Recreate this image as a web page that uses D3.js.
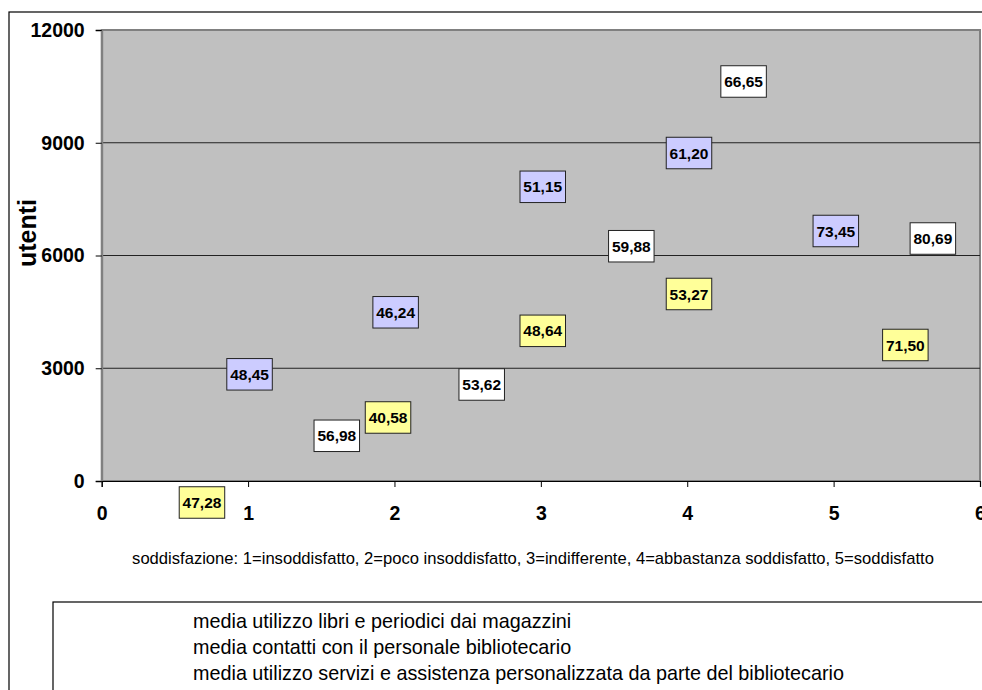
<!DOCTYPE html>
<html>
<head>
<meta charset="utf-8">
<script src="https://cdn.jsdelivr.net/npm/d3@7"></script>
<style>
  html, body { margin: 0; padding: 0; background: #fff; }
  svg { display: block; font-family: "Liberation Sans", Arial, sans-serif; }
</style>
</head>
<body>
<svg id="chart" width="982" height="690"></svg>
<script>
// ---- data ----
const seriesNames = [
  "media utilizzo libri e periodici dai magazzini",
  "media contatti con il personale bibliotecario",
  "media utilizzo servizi e assistenza personalizzata da parte del bibliotecario"
];
const seriesColors = ["#FFFFFF", "#CCCCFF", "#FFFF99"];
// x = satisfaction position, y = users, label = average value
const s1X = [1.606, 2.596, 3.618, 4.385, 5.678];
const s1Y = [1203, 2568, 6247, 10630, 6452];
const s1Labels = ["56,98", "53,62", "59,88", "66,65", "80,69"];
const s2X = [1.010, 2.008, 3.013, 4.012, 5.015];
const s2Y = [2839, 4489, 7828, 8727, 6652];
const s2Labels = ["48,45", "46,24", "51,15", "61,20", "73,45"];
const s3X = [0.685, 1.956, 3.013, 4.012, 5.490];
const s3Y = [-572, 1690, 3996, 4976, 3619];
const s3Labels = ["47,28", "40,58", "48,64", "53,27", "71,50"];
const xTicks = [0, 1, 2, 3, 4, 5, 6];
const yTicks = [0, 3000, 6000, 9000, 12000];
const yTitle = "utenti";
const xTitle = "soddisfazione: 1=insoddisfatto, 2=poco insoddisfatto, 3=indifferente, 4=abbastanza soddisfatto, 5=soddisfatto";

const series = [
  {name: seriesNames[0], color: seriesColors[0], x: s1X, y: s1Y, labels: s1Labels},
  {name: seriesNames[1], color: seriesColors[1], x: s2X, y: s2Y, labels: s2Labels},
  {name: seriesNames[2], color: seriesColors[2], x: s3X, y: s3Y, labels: s3Labels}
];

// ---- layout ----
const svg = d3.select("#chart");
const L = 101.7, R = 980, T = 30, B = 481;
const x = d3.scaleLinear().domain([0, 6]).range([L, R]);
const y = d3.scaleLinear().domain([0, 12000]).range([B, T]);

// outer chart frame
svg.append("rect").attr("x", 9).attr("y", 12).attr("width", 1000).attr("height", 700)
  .attr("fill", "#fff").attr("stroke", "#000").attr("stroke-width", 1.2);

// plot area
svg.append("rect").attr("x", L).attr("y", T).attr("width", R - L).attr("height", B - T)
  .attr("fill", "#C0C0C0").attr("stroke", "#808080").attr("stroke-width", 2);

// gridlines
svg.append("g").selectAll("line").data(yTicks.filter(d => d > 0 && d < 12000)).join("line")
  .attr("x1", L).attr("x2", R).attr("y1", d => y(d)).attr("y2", d => y(d))
  .attr("stroke", "#222").attr("stroke-width", 1);

// axes
const yAxis = svg.append("g").attr("transform", `translate(${L},0)`)
  .call(d3.axisLeft(y).tickValues(yTicks).tickSize(6).tickPadding(11).tickFormat(d3.format("d")));
yAxis.select(".domain").attr("stroke", "#808080").attr("stroke-width", 2);
yAxis.selectAll("text").attr("font-size", 19.5).attr("font-weight", "bold").attr("fill", "#000")
  .attr("font-family", "Liberation Sans, Arial, sans-serif");

const xAxis = svg.append("g").attr("transform", `translate(0,${B})`)
  .call(d3.axisBottom(x).tickValues(xTicks).tickSize(6).tickPadding(19).tickFormat(d3.format("d")));
xAxis.select(".domain").attr("stroke", "#000").attr("stroke-width", 1.2);
xAxis.selectAll("text").attr("font-size", 19.5).attr("font-weight", "bold").attr("fill", "#000")
  .attr("font-family", "Liberation Sans, Arial, sans-serif");

// axis titles
svg.append("text").attr("transform", `translate(36,233) rotate(-90)`)
  .attr("text-anchor", "middle").attr("font-size", 25).attr("font-weight", "bold").text(yTitle);
svg.append("text").attr("x", 533).attr("y", 564).attr("text-anchor", "middle")
  .attr("font-size", 16.6).text(xTitle);

// data labels
const boxW = 45.5, boxH = 31.5;
series.forEach(s => {
  const g = svg.append("g");
  const pts = s.x.map((v, i) => ({x: v, y: s.y[i], label: s.labels[i]}));
  const lg = g.selectAll("g").data(pts).join("g")
    .attr("transform", d => `translate(${x(d.x)},${y(d.y)})`);
  lg.append("rect").attr("x", -boxW / 2).attr("y", -boxH / 2).attr("width", boxW).attr("height", boxH)
    .attr("fill", s.color).attr("stroke", "#222").attr("stroke-width", 1);
  lg.append("text").attr("text-anchor", "middle").attr("dy", "0.36em")
    .attr("font-size", 15.5).attr("font-weight", "bold").text(d => d.label);
});

// legend
svg.append("rect").attr("x", 53).attr("y", 602).attr("width", 1000).attr("height", 200)
  .attr("fill", "#fff").attr("stroke", "#000").attr("stroke-width", 1.2);
svg.append("g").selectAll("text").data(series).join("text")
  .attr("x", 193).attr("y", (d, i) => 628 + i * 26)
  .attr("font-size", 19.8).text(d => d.name);
</script>
</body>
</html>
